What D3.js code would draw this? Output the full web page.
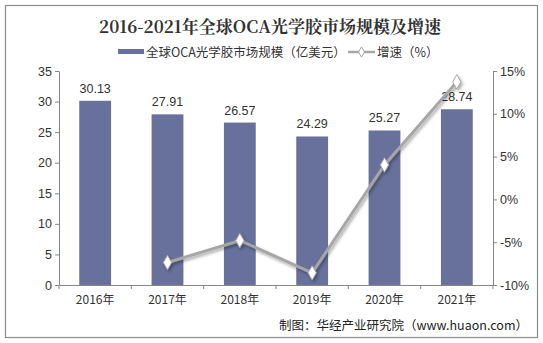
<!DOCTYPE html>
<html><head><meta charset="utf-8">
<script src="https://cdn.jsdelivr.net/npm/d3@7/dist/d3.min.js"></script>
<style>body{margin:0;background:#fff}svg{display:block}</style>
</head><body><svg id="c" width="543" height="343"></svg>
<script>
const years = ["2016年","2017年","2018年","2019年","2020年","2021年"];
const marketSize = [30.13, 27.91, 26.57, 24.29, 25.27, 28.74];
const growthYears = ["2017年","2018年","2019年","2020年","2021年"];
const growth = [-7.37, -4.80, -8.58, 4.03, 13.73];
const leftTicks = [0,5,10,15,20,25,30,35];
const rightTicks = [-10,-5,0,5,10,15];

const svg = d3.select("#c");
const m = {l:59, r:493, t:71, b:285};
const font = "'Liberation Sans', Arial, sans-serif";
const cjk = "'Noto Sans CJK SC', sans-serif";
const axisCol = "#868686";

svg.append("rect").attr("x",5.5).attr("y",5.5).attr("width",532).attr("height",332)
  .attr("fill","#fff").attr("stroke","#8c8c8c").attr("stroke-width",1.2);

const x = d3.scaleBand().domain(years).range([m.l,m.r]).paddingInner(0.56).paddingOuter(0.28);
const xb = d3.scaleBand().domain(years).range([m.l,m.r]);
const yL = d3.scaleLinear().domain([0,35]).range([m.b,m.t]);
const yR = d3.scaleLinear().domain([-10,15]).range([m.b,m.t]);

// title
svg.append("text").attr("x",270).attr("y",33).attr("text-anchor","middle")
  .attr("font-family","'Noto Serif CJK SC','Noto Sans CJK SC',serif").attr("font-weight","bold")
  .attr("font-size",17).attr("fill","#333").text("2016-2021年全球OCA光学胶市场规模及增速");

// legend
const lg = svg.append("g");
lg.append("rect").attr("x",118).attr("y",49).attr("width",26).attr("height",5).attr("fill","#67719b");
lg.append("text").attr("x",146).attr("y",57).attr("font-family",cjk).attr("font-size",12.5).attr("fill","#333")
  .text("全球OCA光学胶市场规模（亿美元）");
lg.append("line").attr("x1",348).attr("x2",375).attr("y1",52).attr("y2",52).attr("stroke","#a6a6a6").attr("stroke-width",2.5);
lg.append("path").attr("d",d3.symbol(d3.symbolDiamond,30)()).attr("transform","translate(361.5,52)")
  .attr("fill","#fff").attr("stroke","#a6a6a6");
lg.append("text").attr("x",377).attr("y",57).attr("font-family",cjk).attr("font-size",12.5).attr("fill","#333")
  .text("增速（%）");

// bars
svg.selectAll(".bar").data(marketSize).enter().append("rect")
  .attr("x",(d,i)=>x(years[i])).attr("width",x.bandwidth())
  .attr("y",d=>yL(d)).attr("height",d=>yL(0)-yL(d)).attr("fill","#67719b");
svg.selectAll(".bl").data(marketSize).enter().append("text")
  .attr("x",(d,i)=>x(years[i])+x.bandwidth()/2).attr("y",d=>yL(d)-8)
  .attr("text-anchor","middle").attr("font-family",font).attr("font-size",12.5).attr("fill","#333")
  .text(d=>d.toFixed(2));

// axes
const gl = svg.append("g").attr("transform",`translate(${m.l},0)`)
  .call(d3.axisLeft(yL).tickValues(leftTicks).tickSize(4).tickSizeOuter(0));
const gr = svg.append("g").attr("transform",`translate(${m.r},0)`)
  .call(d3.axisRight(yR).tickValues(rightTicks).tickSize(4).tickSizeOuter(0).tickFormat(d=>d+"%"));
const gb = svg.append("g").attr("transform",`translate(0,${m.b})`)
  .call(d3.axisBottom(xb).tickSize(0).tickSizeOuter(0));
[gl,gr,gb].forEach(g=>{
  g.selectAll("path,line").attr("stroke",axisCol);
  g.selectAll("text").attr("font-family",font).attr("font-size",12.5).attr("fill","#333");
});
gb.selectAll("text").attr("font-family",cjk).attr("font-size",12).attr("dy","1.3em");
// category boundary ticks
svg.append("g").selectAll("line").data(years.concat(["end"])).enter().append("line")
  .attr("x1",(d,i)=>m.l+i*xb.step()).attr("x2",(d,i)=>m.l+i*xb.step())
  .attr("y1",m.b).attr("y2",m.b+4).attr("stroke",axisCol);

// shadow filter
const defs = svg.append("defs");
const f = defs.append("filter").attr("id","sh").attr("x","-20%").attr("y","-20%").attr("width","140%").attr("height","140%");
f.append("feDropShadow").attr("dx",1.5).attr("dy",2).attr("stdDeviation",1.5).attr("flood-color","#000").attr("flood-opacity",0.35);

const pts = growth.map((v,i)=>[xb(growthYears[i])+xb.bandwidth()/2, yR(v)]);
const lineG = svg.append("g").attr("filter","url(#sh)");
lineG.append("path").attr("d",d3.line()(pts)).attr("fill","none").attr("stroke","#a6a6a6").attr("stroke-width",3);
lineG.selectAll(".mk").data(pts).enter().append("path")
  .attr("d",d3.symbol(d3.symbolDiamond,60)()).attr("transform",d=>`translate(${d[0]},${d[1]})`)
  .attr("fill","#fff").attr("stroke","#a6a6a6").attr("stroke-width",1);

// footer
svg.append("text").attr("x",528).attr("y",330).attr("text-anchor","end").attr("font-family",cjk)
  .attr("font-size",12.5).attr("fill","#222").text("制图：华经产业研究院（www.huaon.com）");
</script></body></html>
